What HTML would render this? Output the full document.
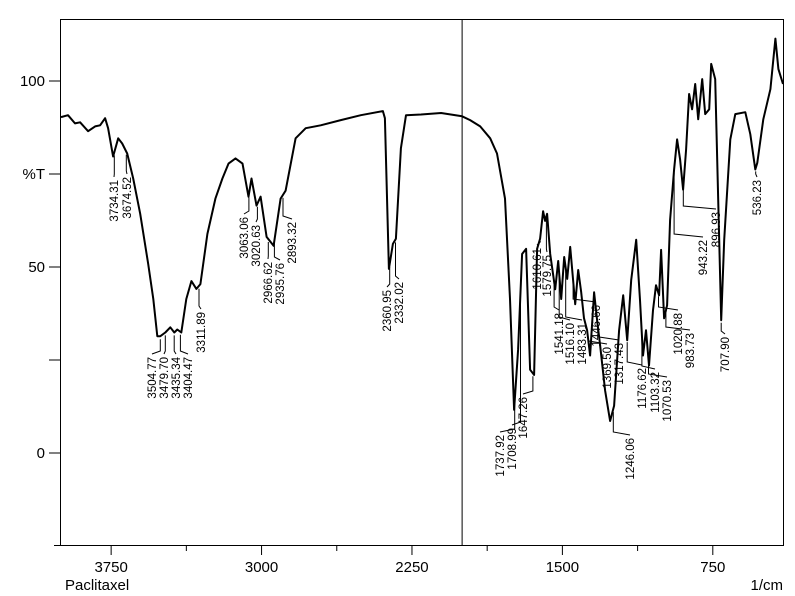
<!DOCTYPE html>
<html><head><meta charset="utf-8"><style>
html,body{margin:0;padding:0;background:#fff}
svg{display:block;font-family:"Liberation Sans Narrow","Liberation Sans",Arial,sans-serif}
</style></head><body>
<svg id="c" width="795" height="596" viewBox="0 0 795 596"></svg>
<script>
const wavenumbers=[4000,3965,3930,3905,3865,3830,3805,3780,3765,3740,3715,3695,3670,3640,3605,3565,3540,3520,3505,3480,3455,3435,3420,3400,3375,3350,3325,3305,3270,3230,3195,3165,3130,3095,3065,3050,3025,3005,2975,2940,2905,2880,2830,2780,2705,2605,2505,2395,2385,2365,2345,2330,2305,2280,2205,2105,2000,1960,1910,1860,1826,1786,1761,1741,1721,1701,1681,1661,1641,1626,1611,1596,1586,1576,1561,1536,1521,1506,1491,1476,1461,1436,1421,1406,1392,1377,1362,1342,1327,1312,1287,1262,1242,1217,1197,1177,1157,1132,1113,1098,1083,1068,1048,1033,1018,1008,993,978,963,943,928,913,898,883,868,853,838,823,803,788,768,758,738,723,708,693,663,638,588,563,538,528,498,463,438,423,400];
const transmittance=[90.3,90.8,88.6,88.9,86.5,87.8,88.1,90,87.3,79.7,84.6,83.2,80.5,73.8,64.3,50.8,41.4,31.4,31.4,32.4,33.8,32.4,33.2,32.4,41.4,46.2,44.1,45.4,58.9,68.4,73.8,77.8,79.2,77.8,68.9,73.8,66.5,68.9,58.1,55.7,68.4,70.5,84.6,87.3,88.1,89.5,90.8,91.9,90,49.5,56.2,57.6,81.9,90.8,91,91.4,90.5,89.5,87.8,84.6,80.5,68.4,41.4,11.6,27.8,53.5,54.9,22.4,21,54.9,57.6,65,62.4,64.3,53.5,44,51.6,41.4,52.7,46.8,55.4,40,49.2,43.2,36.2,33,26.2,43.2,35.7,29,16.8,8.6,12.7,33,42.4,30.3,46.5,57.3,41.1,26.2,33,23.5,38.4,45.1,42.4,54.6,36.2,39.7,62.7,76.2,84.3,78.9,70.8,81.6,96.5,92.4,99.2,89.7,100.5,91.1,92.4,104.6,100.5,68.1,35.7,57.3,84.3,91.1,91.6,85.7,76.2,78,89.7,97.8,111.4,103.2,99.2];
const peakLabels=["3734.31","3674.52","3504.77","3479.70","3435.34","3404.47","3311.89","3063.06","3020.63","2966.62","2935.76","2893.32","2360.95","2332.02","1737.92","1708.99","1647.26","1610.61","1579.75","1541.18","1516.10","1483.31","1446.66","1369.50","1317.43","1246.06","1176.62","1103.32","1070.53","1020.88","983.73","943.22","896.93","707.90","536.23"];
const labelX=[114,127,152,164,176,188,201,244,256,268,280,292,387,399,500,512,523,537,547,559,570,582,596,607,619,630,642,655,667,678,690,703,716,725,757];
const labelTop=[180,177,357,357,357,357,312,217,225,262,263,222,290,282,435,428,397,248,255,313,323,323,305,347,343,438,368,372,380,313,333,240,212,337,180];
const xTicks=[3750,3000,2250,1500,750];
const yTicks=[100,50,0];

const svg=document.getElementById('c');
const NS='http://www.w3.org/2000/svg';
const X=w=>61+(4000-w)*(722/3600);
const Y=t=>453-t*3.72;
function mk(tag,attrs,parent){const e=document.createElementNS(NS,tag);for(const k in attrs)e.setAttribute(k,attrs[k]);(parent||svg).appendChild(e);return e;}

// frame
const frame=mk('rect',{x:60.5,y:19.5,width:723,height:526,fill:'none',stroke:'#000','stroke-width':1});


const div=mk('line',{x1:X(2000),x2:X(2000),y1:19.5,y2:545.5,stroke:'#000','stroke-width':1});


const bx=mk('line',{x1:54,x2:783,y1:545.5,y2:545.5,stroke:'#000'});



// x ticks
for(let w=3750;w>=400;w-=375){
  const major=xTicks.includes(w);
  const t=mk('line',{x1:X(w),x2:X(w),y1:545,y2:major?555:551,stroke:'#000'});
  
  
}
xTicks.forEach(w=>{
  const t=mk('text',{x:X(w),y:572,'font-size':15,'text-anchor':'middle'});
  t.textContent=w;
  
  
});
// y ticks
[100,75,50,25,0].forEach(v=>{
  const t=mk('line',{x1:49,x2:60,y1:Y(v),y2:Y(v),stroke:'#000'});
  
  
});
yTicks.forEach(v=>{
  const t=mk('text',{x:45,y:Y(v)+5,'font-size':15,'text-anchor':'end'});
  t.textContent=v;
  
  
});
const yt=mk('text',{x:45,y:Y(75)+5,'font-size':15,'text-anchor':'end'});
yt.textContent='%T';


const xt=mk('text',{x:783,y:590,'font-size':15,'text-anchor':'end'});
xt.textContent='1/cm';


const st=mk('text',{x:65,y:590,'font-size':15});
st.textContent='Paclitaxel';



// spectrum
const pts=wavenumbers.map((w,i)=>X(w).toFixed(1)+','+Y(transmittance[i]).toFixed(1)).join(' ');
const line=mk('polyline',{points:pts,fill:'none',stroke:'#000','stroke-width':2,'stroke-linejoin':'round'});



function interp(w){
  for(let i=0;i<wavenumbers.length-1;i++){
    const a=wavenumbers[i],b=wavenumbers[i+1];
    if(w<=a&&w>=b){const f=(a-w)/(a-b);return transmittance[i]+f*(transmittance[i+1]-transmittance[i]);}
  }
  return transmittance[transmittance.length-1];
}
// peak labels
peakLabels.forEach((lab,i)=>{
  const w=parseFloat(lab);
  const px=X(w),py=Y(interp(w));
  const lx=labelX[i],ly=labelTop[i];
  const g=mk('g',{});
  
  
  const dy=ly>py?1:-1;
  const l=mk('polyline',{points:`${px.toFixed(1)},${(py+3*dy).toFixed(1)} ${px.toFixed(1)},${(ly-6).toFixed(1)} ${lx},${ly-3}`,fill:'none',stroke:'#000','stroke-width':1},g);
  
  
  const t=mk('text',{x:0,y:0,'font-size':11.5,'text-anchor':'end',transform:`translate(${lx+4},${ly}) rotate(-90)`},g);
  t.textContent=lab;
  
  
});
</script>
</body></html>
